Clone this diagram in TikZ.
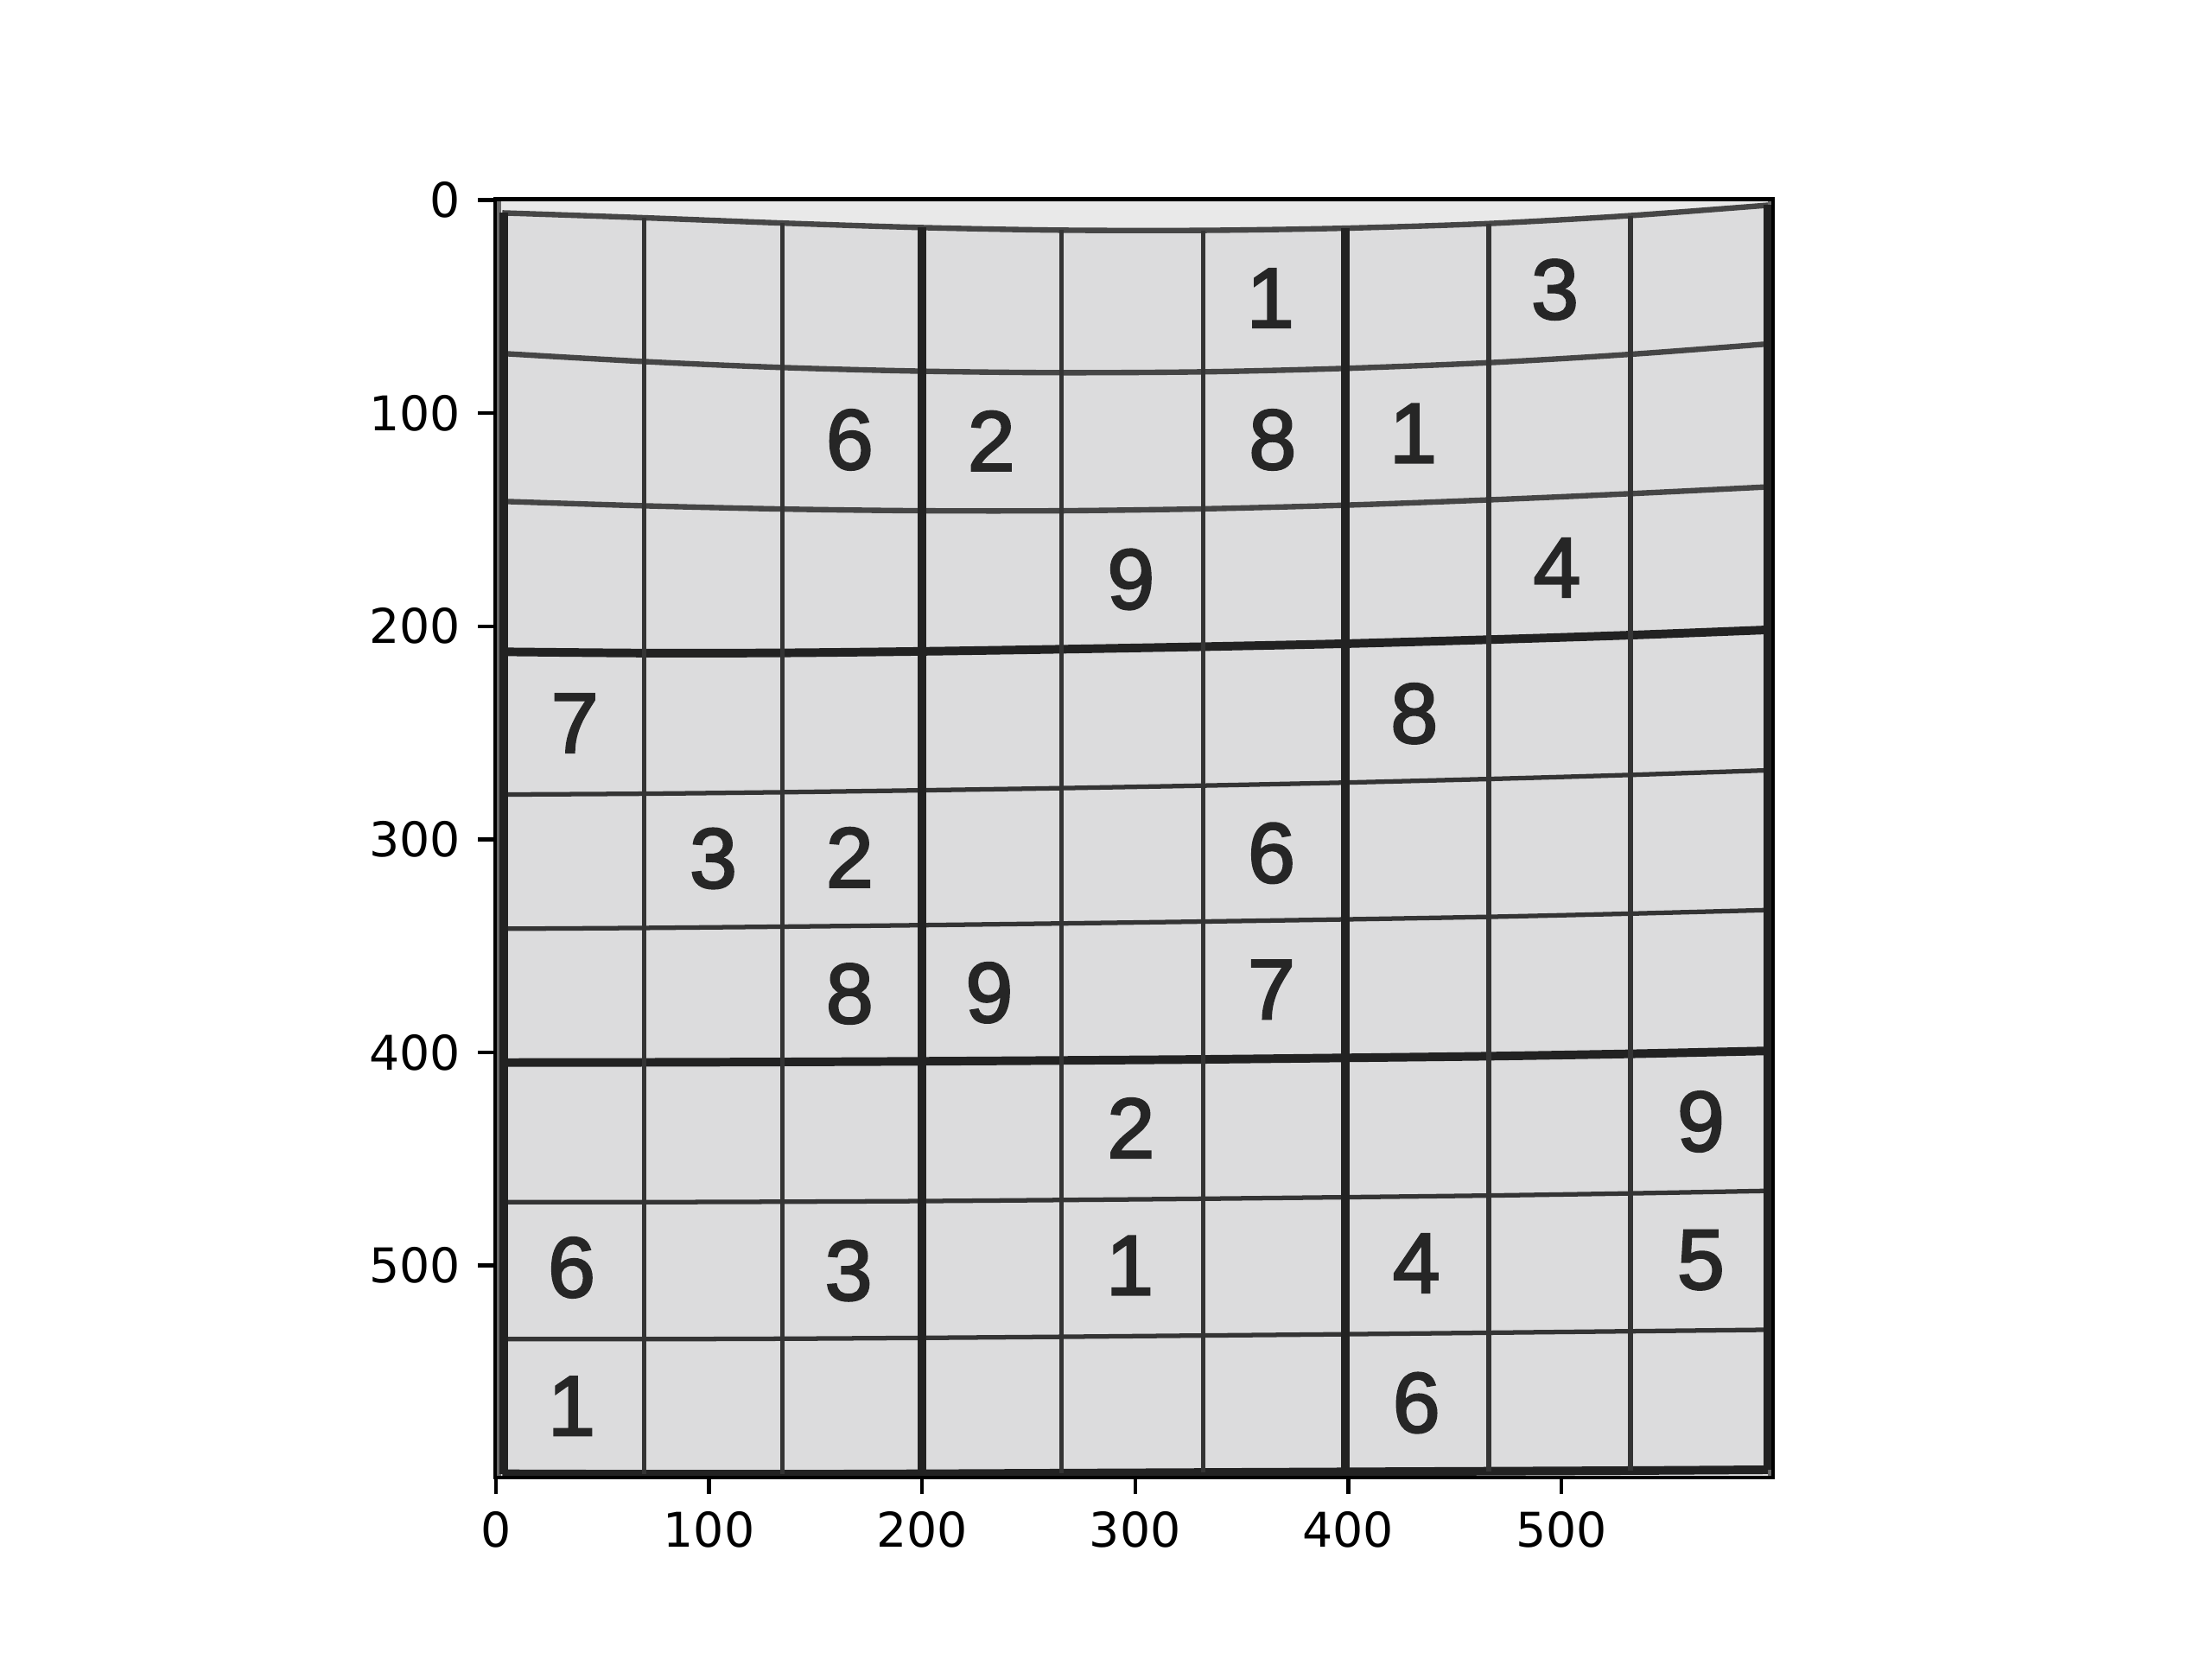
\documentclass[tikz,border=0pt]{standalone}
\usepackage{fontspec}
\setmainfont{DejaVu Sans}
\newfontfamily\cellfont[FakeBold=2.5]{Liberation Sans}
\definecolor{paper}{RGB}{220,220,221}
\definecolor{paperedge}{RGB}{233,233,233}
\definecolor{gridgray}{RGB}{52,52,52}
\definecolor{softgray}{RGB}{70,70,70}
\definecolor{boxgray}{RGB}{34,34,34}
\definecolor{inkgray}{RGB}{38,38,38}
\definecolor{rimgray}{RGB}{105,105,105}

\tikzset{
  thinline/.style={gridgray, line width=0.95pt},
  softline/.style={softgray, line width=1.15pt},
  boxline/.style={boxgray, line width=1.8pt},
  digit/.style={inkgray, inner sep=0pt, font=\cellfont\fontsize{17.8}{20}\selectfont},
  ticklabel/.style={inner sep=0pt, font=\fontsize{10}{12}\selectfont}
}

\begin{document}
\begin{tikzpicture}
  \useasboundingbox (0,0) rectangle (6.4in,4.8in);

  \begin{scope}[x=0.00616in, y=-0.00616in, shift={(1.435in,4.221in)}]
    \begin{scope}
      \clip (-0.5,-0.5) rectangle (599.5,599.5);
      \fill[paper] (-0.5,-0.5) rectangle (599.5,599.5);

      % bent edge of the page
      \fill[paperedge] (-0.5,-0.5) -- (-0.5,6) -- plot[smooth] coordinates
        {(3,6) (70,8.3) (135,10.8) (200,12.9) (265,14.1) (332,14.2) (398,13.2) (466,11) (532,7.3) (597,2.4)}
        -- (599.5,2) -- (599.5,-0.5) -- cycle;
      \fill[rimgray] (-0.5,-0.5) rectangle (2.5,599.5);
      \fill[rimgray] (597,-0.5) rectangle (599.5,599.5);

      % rows
      \draw[softline] plot[smooth] coordinates
        {(3,6) (70,8.3) (135,10.8) (200,12.9) (265,14.1) (332,14.2) (398,13.2) (466,11) (532,7.3) (597,2.4)};
      \draw[softline] plot[smooth] coordinates
        {(3,72) (70,75.8) (135,78.6) (200,80.3) (265,81) (332,80.6) (398,79) (466,76.3) (532,72.4) (597,67.5)};
      \draw[softline] plot[smooth] coordinates
        {(3,141.4) (70,143.5) (135,145) (200,145.8) (265,145.8) (332,144.9) (398,143.2) (466,140.7) (532,137.8) (597,134.6)};
      \draw[boxline] plot[smooth] coordinates
        {(3,212) (70,212.6) (135,212.5) (200,211.8) (265,210.8) (332,209.6) (398,208.2) (466,206.3) (532,204.2) (597,201.7)};
      \draw[thinline] plot[smooth] coordinates
        {(3,279) (70,278.6) (135,277.9) (200,277) (265,276) (332,274.8) (398,273.4) (466,271.7) (532,269.8) (597,267.6)};
      \draw[thinline] plot[smooth] coordinates
        {(3,342) (70,341.6) (135,341) (200,340.3) (265,339.5) (332,338.6) (398,337.6) (466,336.4) (532,334.9) (597,333.2)};
      \draw[boxline] plot[smooth] coordinates
        {(3,404.8) (70,404.7) (135,404.5) (200,404.2) (265,403.8) (332,403.3) (398,402.6) (466,401.8) (532,400.7) (597,399.3)};
      \draw[thinline] plot[smooth] coordinates
        {(3,470.3) (70,470.3) (135,470.1) (200,469.8) (265,469.3) (332,468.7) (398,468) (466,467.2) (532,466.2) (597,465)};
      \draw[thinline] plot[smooth] coordinates
        {(3,534.6) (70,534.6) (135,534.4) (200,534) (265,533.5) (332,532.9) (398,532.3) (466,531.6) (532,530.9) (597,530.2)};
      \draw[boxline] plot[smooth] coordinates
        {(3,597.8) (70,598) (135,598) (200,597.8) (265,597.5) (332,597.2) (398,596.9) (466,596.6) (532,596.3) (597,595.9)};

      % columns
      \foreach \x/\top/\bot in {69.5/8.3/598, 134.5/10.8/598, 265.5/14.1/597.5, 332/14.2/597.2, 466/11/596.6, 532.5/7.3/596.3}
        \draw[thinline] (\x,\top) -- (\x,\bot);
      \foreach \x/\top/\bot in {3.8/6/597.8, 200/12.9/597.8, 398.5/13.2/596.9, 597/2.4/595.9}
        \draw[boxline] (\x,\top) -- (\x,\bot);

      % given numbers
      \foreach \x/\y/\v [count=\k] in {
          363.5/46/1, 497/42/3,
          166/112.5/6, 232.5/113/2, 364.5/112.5/8, 430.5/109.5/1,
          298/178/9, 498/172.5/4,
          37/245.5/7, 431/241/8,
          102/309/3, 166/308.5/2, 364/306.5/6,
          166/372.5/8, 231.5/372/9, 364/370.5/7,
          298/435.5/2, 565.5/432.5/9,
          35.5/501/6, 165.5/502.5/3, 297.5/500/1, 432/499/4, 565.5/497.5/5,
          35.5/566/1, 432/564.5/6}
        \node[digit] (d\k) at (\x,\y) {\v};
    \end{scope}

    % axes
    \draw[line width=0.8pt] (-0.5,-0.5) rectangle (599.5,599.5);
    \foreach \t in {0,100,...,500} {
      \draw[line width=0.8pt] (-0.5,\t) -- ++(-3.5pt,0);
      \node[ticklabel, anchor=east] (yt\t) at ([xshift=-7pt]-0.5,\t) {\t};
      \draw[line width=0.8pt] (\t,599.5) -- ++(0,-3.5pt);
      \node[ticklabel, anchor=north] (xt\t) at ([yshift=-7pt]\t,599.5) {\t};
    }
  \end{scope}
\end{tikzpicture}
\end{document}
